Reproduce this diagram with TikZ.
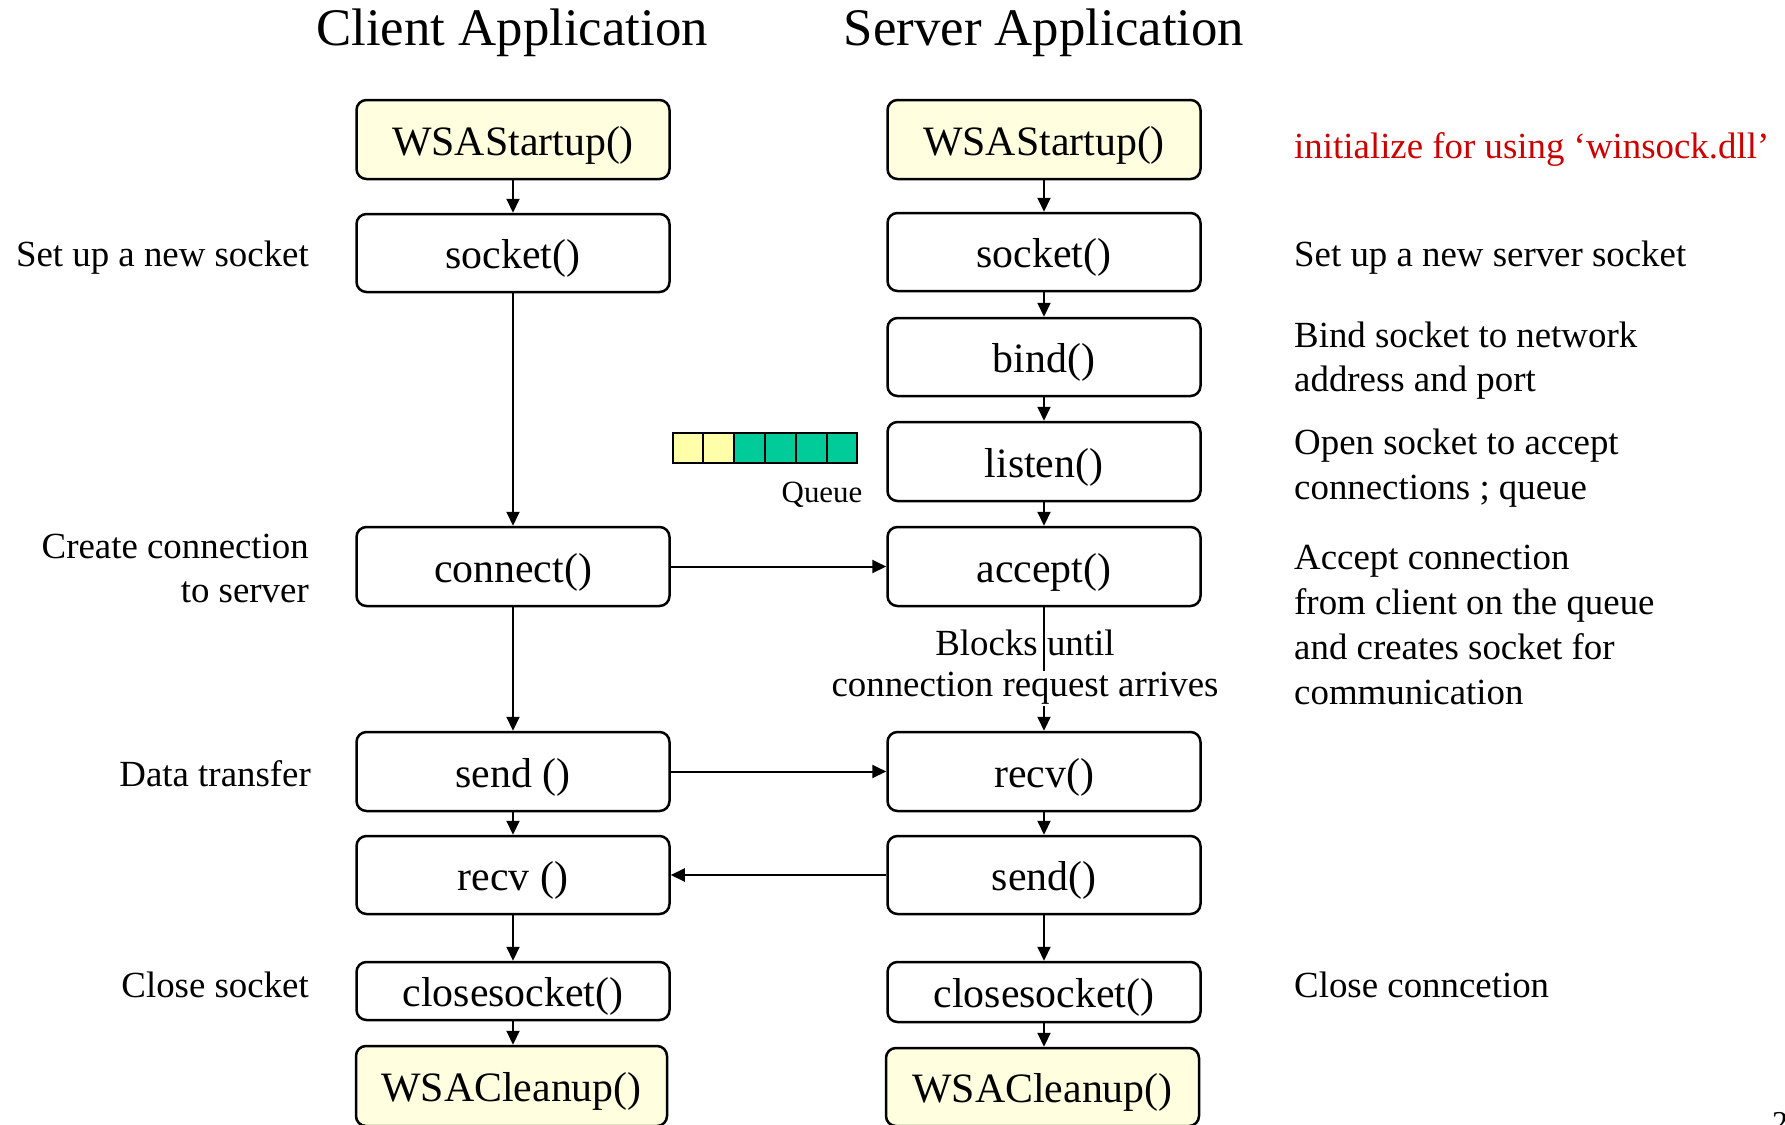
\documentclass[tikz,border=0pt]{standalone}
\usepackage{fontspec}
\setmainfont{Liberation Serif}
\usetikzlibrary{arrows.meta}
\definecolor{boxyellow}{RGB}{255,255,224}
\definecolor{qyellow}{RGB}{255,255,170}
\definecolor{qgreen}{RGB}{0,204,153}
\definecolor{notered}{RGB}{204,0,0}
\begin{document}
\begin{tikzpicture}[x=1bp,y=-1bp,
  fn/.style={draw, line width=2.5bp, rounded corners=10bp, minimum width=313bp,
    minimum height=79bp, inner sep=0pt, text height=33.6bp, text depth=2.1bp,
    font=\fontsize{42}{50}\selectfont},
  startbox/.style={fn, fill=boxyellow},
  flow/.style={line width=2bp, -{Triangle[length=14bp,width=13bp]}},
  lbl/.style={inner sep=0pt, font=\fontsize{37}{45}\selectfont},
  ttl/.style={inner sep=0pt, anchor=base, font=\fontsize{53}{60}\selectfont},
  qcell/.style={draw, line width=2bp}
]
\clip (0,0) rectangle (1785,1124);
\fill[white] (0,0) rectangle (1785,1124);

% column titles
\node[ttl] (tclient) at (512,45) {Client Application};
\node[ttl] (tserver) at (1044,45) {Server Application};

% client side
\node[startbox] (cws) at (513,139.5) {WSAStartup()};
\node[fn, minimum height=78bp] (csock) at (513,253) {socket()};
\node[fn] (ccon) at (513,566.5) {connect()};
\node[fn] (csend) at (513,771.5) {send ()};
\node[fn, minimum height=78bp] (crecv) at (513,875) {recv ()};
\node[fn, minimum height=58bp] (cclose) at (513,991) {closesocket()};
\node[startbox, minimum height=80bp, minimum width=311bp] (cclean) at (511.5,1086) {WSACleanup()};

% server side
\node[startbox] (sws) at (1044,139.5) {WSAStartup()};
\node[fn, minimum height=78bp] (ssock) at (1044,252) {socket()};
\node[fn, minimum height=78bp] (sbind) at (1044,357) {bind()};
\node[fn] (slisten) at (1044,461.5) {listen()};
\node[fn] (sacc) at (1044,566.5) {accept()};
\node[fn] (srecv) at (1044,771.5) {recv()};
\node[fn, minimum height=78bp] (ssend) at (1044,875) {send()};
\node[fn, minimum height=60bp] (sclose) at (1044,992) {closesocket()};
\node[startbox, minimum height=78bp] (sclean) at (1042.5,1087) {WSACleanup()};

% client flow
\draw[flow] (cws) -- (csock);
\draw[flow] (csock) -- (ccon);
\draw[flow] (ccon) -- (csend);
\draw[flow] (csend) -- (crecv);
\draw[flow] (crecv) -- (cclose);
\draw[flow] (cclose.south) -- (cclose.south |- cclean.north);

% server flow
\draw[flow] (sws) -- (ssock);
\draw[flow] (ssock) -- (sbind);
\draw[flow] (sbind) -- (slisten);
\draw[flow] (slisten) -- (sacc);
\draw[flow] (sacc) -- (srecv);
\draw[flow] (srecv) -- (ssend);
\draw[flow] (ssend) -- (sclose);
\draw[flow] (sclose.south) -- (sclose.south |- sclean.north);

% exchanges between client and server
\draw[flow] (ccon) -- (sacc);
\draw[flow] (csend) -- (srecv);
\draw[flow] (ssend) -- (crecv);

% blocking note on the accept arrow
\node[lbl, anchor=base] (blk1) at (1025,655.8) {Blocks until};
\node[lbl, anchor=base, fill=white, inner sep=1bp] (blk2) at (1025,696.8) {connection request arrives};

% connection queue
\foreach \i in {0,...,5} {
  \pgfmathsetmacro{\xa}{672.7+30.77*\i}
  \pgfmathsetmacro{\xb}{672.7+30.77*(\i+1)}
  \ifnum\i<2
    \draw[qcell, fill=qyellow] (\xa,432.7) rectangle (\xb,462.7);
  \else
    \draw[qcell, fill=qgreen] (\xa,432.7) rectangle (\xb,462.7);
  \fi
}
\node[inner sep=0pt, font=\fontsize{31}{37}\selectfont] (queue) at (822,494.5) {Queue};

% client-side notes
\node[lbl, anchor=base east] (lsock) at (309,266.5) {Set up a new socket};
\node[lbl, anchor=east, align=right] (lcon) at (309,568.5) {Create connection\\to server};
\node[lbl, anchor=base east] (ldata) at (311,786.6) {Data transfer};
\node[lbl, anchor=base east] (lclose) at (309,997.3) {Close socket};

% server-side notes
\node[lbl, anchor=base west, text=notered] (rinit) at (1294,158.3) {initialize for using ‘winsock.dll’};
\node[lbl, anchor=base west] (rsock) at (1294,266.5) {Set up a new server socket};
\node[lbl, anchor=west, align=left] (rbind) at (1294,360.6) {Bind socket to network\\address and port};
\node[lbl, anchor=west, align=left] (rlisten) at (1294,468) {Open socket to accept\\connections ; queue};
\node[lbl, anchor=west, align=left] (racc) at (1294,625) {Accept connection\\from client on the queue\\and creates socket for\\communication};
\node[lbl, anchor=base west] (rclose) at (1294,997.3) {Close conncetion};

% page number
\node[inner sep=0pt, anchor=base west, font=\fontsize{32}{38}\selectfont] (pg) at (1772,1133) {2};
\end{tikzpicture}
\end{document}
